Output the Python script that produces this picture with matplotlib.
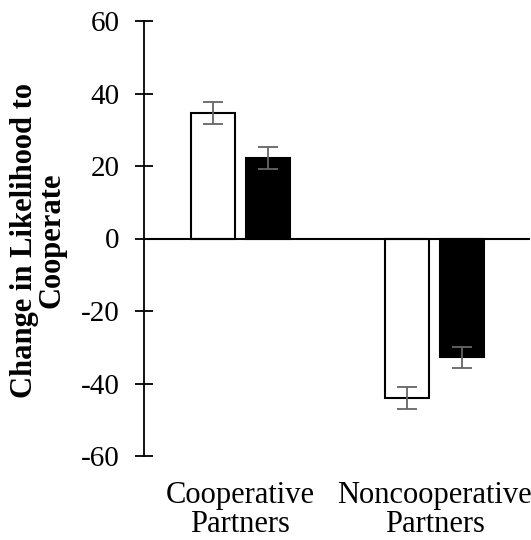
import matplotlib
matplotlib.use("Agg")
import matplotlib.pyplot as plt
import numpy as np

groups = ["Cooperative\nPartners", "Noncooperative\nPartners"]
series_a = [34.6, -43.9]   # white bars
series_b = [22.2, -32.7]   # black bars
err_a = [3.0, 3.0]
err_b = [3.0, 2.9]
yticks = [-60, -40, -20, 0, 20, 40, 60]

plt.rcParams['font.family'] = ['Liberation Serif', 'DejaVu Serif']

fig = plt.figure(figsize=(5.31, 5.40), dpi=100)
ax = fig.add_axes([144/531, 1-456/540, 386/531, 435/540])

x = np.arange(len(groups))
w = 0.227
off = 0.1418
ekw = dict(ecolor='#666666', elinewidth=1.3, capthick=1.3)
ax.bar(x - off, series_a, w, color='white', edgecolor='black', linewidth=1.5,
       yerr=err_a, capsize=7, error_kw=ekw, zorder=2)
ax.bar(x + off, series_b, w, color='black', edgecolor='black', linewidth=1.5,
       yerr=err_b, capsize=7, error_kw=ekw, zorder=2)

ax.set_xlim(-0.497, 1.492)
ax.set_ylim(-60, 60)
ax.set_yticks(yticks)
ax.set_yticklabels([str(t) for t in yticks], fontsize=21)
ax.tick_params(axis='y', direction='inout', length=13, width=1.3, pad=11)
ax.axhline(0, color='black', linewidth=1.5, zorder=3)
ax.spines['top'].set_visible(False)
ax.spines['right'].set_visible(False)
ax.spines['bottom'].set_visible(False)
ax.spines['left'].set_linewidth(1.3)
ax.set_xticks([])

for xi, g in zip(x, groups):
    ax.text(xi, -67, g, ha='center', va='top', fontsize=22, linespacing=1.0,
            transform=ax.transData, clip_on=False)

fig.text(38/531, 1-240/540, "Change in Likelihood to\nCooperate", rotation=90,
         ha='center', va='center', fontsize=22, fontweight='bold', linespacing=0.92)

fig.savefig("out.png", dpi=100)
